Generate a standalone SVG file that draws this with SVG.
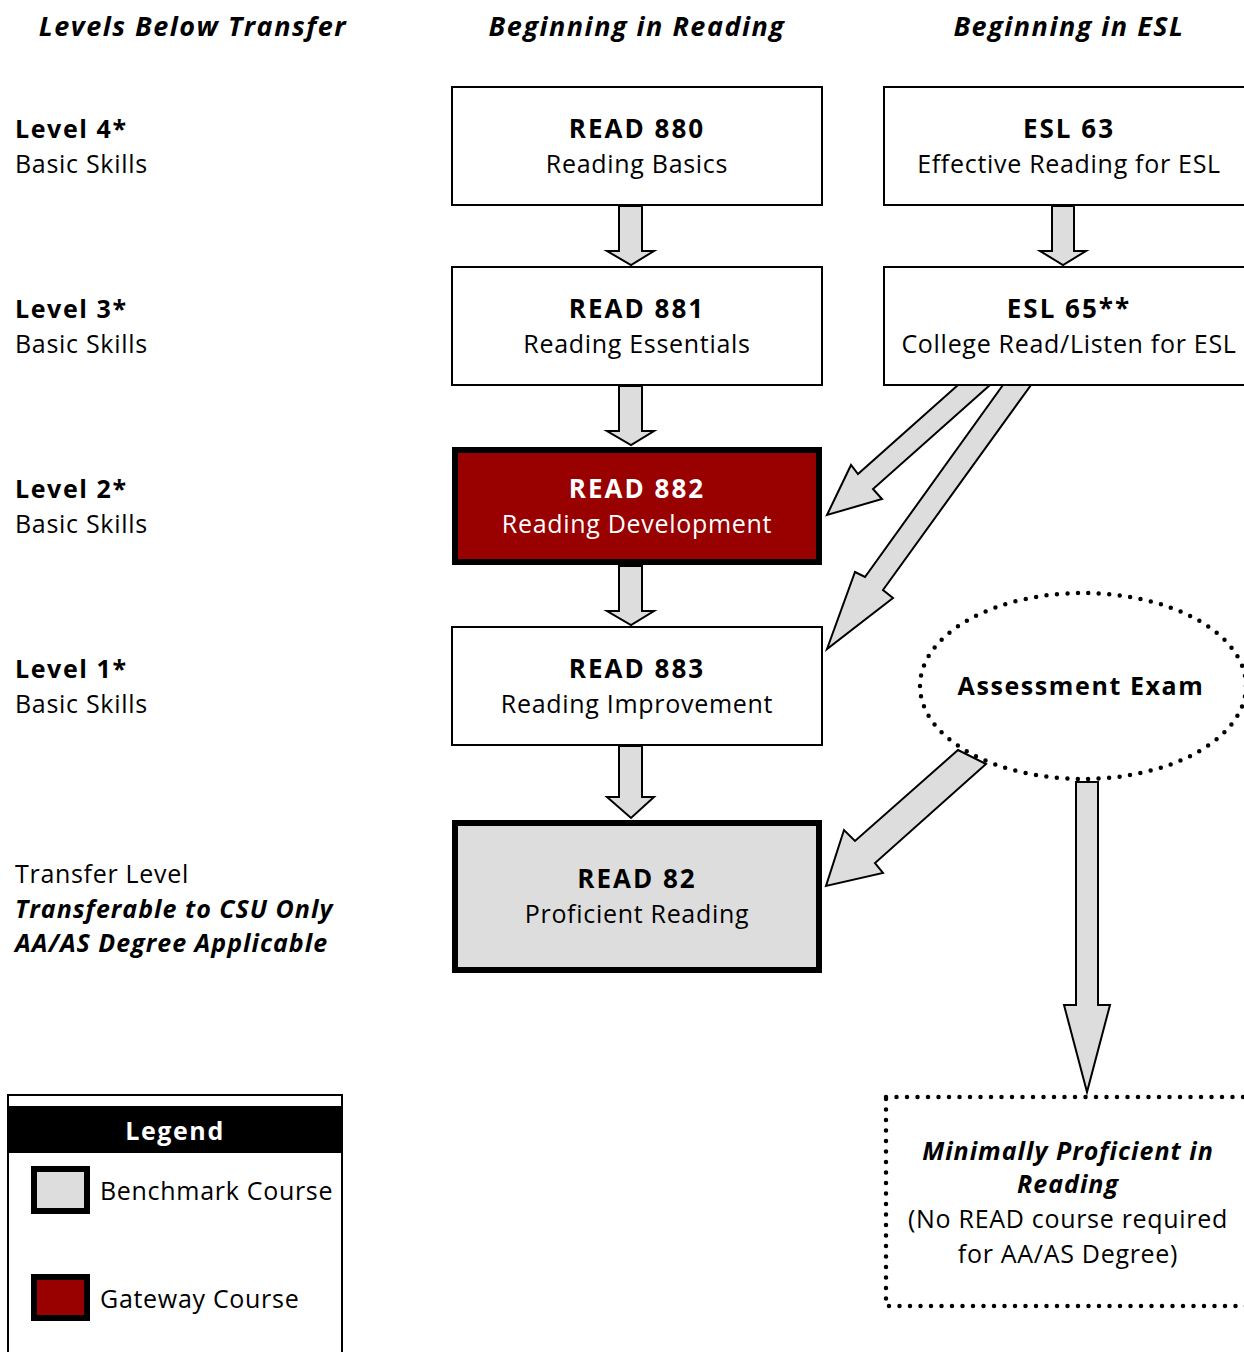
<svg xmlns="http://www.w3.org/2000/svg" width="1244" height="1352" viewBox="0 0 1244 1352">
<style>
text{font-family:"Open Sans","Noto Sans","Liberation Sans",sans-serif;fill:#000;font-size:25px;letter-spacing:0.7px}
.hd{font-weight:bold;font-style:italic;font-size:27px;text-anchor:middle;letter-spacing:1.5px}
.b{font-weight:bold;letter-spacing:1.6px}
.big{font-size:26px;letter-spacing:2px}
.bi{font-weight:bold;font-style:italic;letter-spacing:1px}
.c{text-anchor:middle}
.w{fill:#fff}
.box{fill:#fff;stroke:#000;stroke-width:2}
.thick{stroke:#000;stroke-width:6}
.arr{fill:#dddddd;stroke:#000;stroke-width:2;stroke-linejoin:miter}
.dot{fill:none;stroke:#000;stroke-width:4.5;stroke-linecap:round;stroke-dasharray:0 10.5}
</style>
<rect width="1244" height="1352" fill="#fff"/>
<g id="headers">
<text class="hd" x="193" y="36">Levels Below Transfer</text>
<text class="hd" x="637" y="36">Beginning in Reading</text>
<text class="hd" x="1069" y="36">Beginning in ESL</text>
</g>
<g id="levels">
<text class="b" x="15" y="138">Level 4*</text><text x="15" y="173">Basic Skills</text>
<text class="b" x="15" y="318">Level 3*</text><text x="15" y="353">Basic Skills</text>
<text class="b" x="15" y="498">Level 2*</text><text x="15" y="533">Basic Skills</text>
<text class="b" x="15" y="678">Level 1*</text><text x="15" y="713">Basic Skills</text>
<text x="15" y="883">Transfer Level</text>
<text class="bi" x="15" y="918">Transferable to CSU Only</text>
<text class="bi" x="15" y="952">AA/AS Degree Applicable</text>
</g>
<g id="connectors">
<polygon class="arr" points="619,206 642,206 642,251 654,251 631,265 607,251 619,251"/>
<polygon class="arr" points="619,386 642,386 642,431 654,431 631,445 607,431 619,431"/>
<polygon class="arr" points="619,566 642,566 642,611 654,611 631,625 607,611 619,611"/>
<polygon class="arr" points="619,746 642,746 642,797 654,797 631,818 607,797 619,797"/>
<polygon class="arr" points="1052,206 1074,206 1074,251 1086,251 1063,265 1040,251 1052,251"/>
<polygon class="arr" points="958,385 990,385 873,489 882,499 827,515 851,465 858,474"/>
<polygon class="arr" points="1003,385 1031,385 883,590 893,598 827,649 855,572 865,577"/>
<polygon class="arr" points="958,750 986,764 875,863 883,873 826,886 844,830 855,841"/>
<polygon class="arr" points="1076,782 1098,782 1098,1005 1110,1005 1087,1092 1064,1005 1076,1005"/>
</g>
<g id="read880">
<rect class="box" x="452" y="87" width="370" height="118"/>
<text class="b big c" x="637" y="138">READ 880</text>
<text class="c" x="637" y="173">Reading Basics</text>
</g>
<g id="read881">
<rect class="box" x="452" y="267" width="370" height="118"/>
<text class="b big c" x="637" y="318">READ 881</text>
<text class="c" x="637" y="353">Reading Essentials</text>
</g>
<g id="read882">
<rect x="455" y="450" width="364" height="112" fill="#990000" class="thick"/>
<text class="b big c w" x="637" y="498">READ 882</text>
<text class="c w" x="637" y="533">Reading Development</text>
</g>
<g id="read883">
<rect class="box" x="452" y="627" width="370" height="118"/>
<text class="b big c" x="637" y="678">READ 883</text>
<text class="c" x="637" y="713">Reading Improvement</text>
</g>
<g id="read82">
<rect x="455" y="823" width="364" height="147" fill="#dddddd" class="thick"/>
<text class="b big c" x="637" y="888">READ 82</text>
<text class="c" x="637" y="923">Proficient Reading</text>
</g>
<g id="esl63">
<rect class="box" x="884" y="87" width="370" height="118"/>
<text class="b big c" x="1069" y="138">ESL 63</text>
<text class="c" x="1069" y="173">Effective Reading for ESL</text>
</g>
<g id="esl65">
<rect class="box" x="884" y="267" width="370" height="118"/>
<text class="b big c" x="1069" y="318">ESL 65**</text>
<text class="c" x="1069" y="353">College Read/Listen for ESL</text>
</g>
<g id="assessment">
<ellipse class="dot" cx="1083" cy="686" rx="163" ry="93"/>
<text class="b c" x="1081" y="695">Assessment Exam</text>
</g>
<g id="proficient">
<rect class="dot" x="886" y="1097" width="380" height="209"/>
<text class="bi c" x="1068" y="1160">Minimally Proficient in</text>
<text class="bi c" x="1068" y="1193">Reading</text>
<text class="c" x="1068" y="1228">(No READ course required</text>
<text class="c" x="1068" y="1263">for AA/AS Degree)</text>
</g>
<g id="legend">
<rect x="8" y="1095" width="334" height="270" fill="#fff" stroke="#000" stroke-width="2"/>
<rect x="8" y="1106" width="334" height="47" fill="#000"/>
<text class="b c w" x="175" y="1140">Legend</text>
<rect x="34" y="1169" width="53" height="42" fill="#dddddd" class="thick"/>
<text x="100" y="1200">Benchmark Course</text>
<rect x="34" y="1277" width="53" height="41" fill="#990000" class="thick"/>
<text x="100" y="1308">Gateway Course</text>
</g>
</svg>
